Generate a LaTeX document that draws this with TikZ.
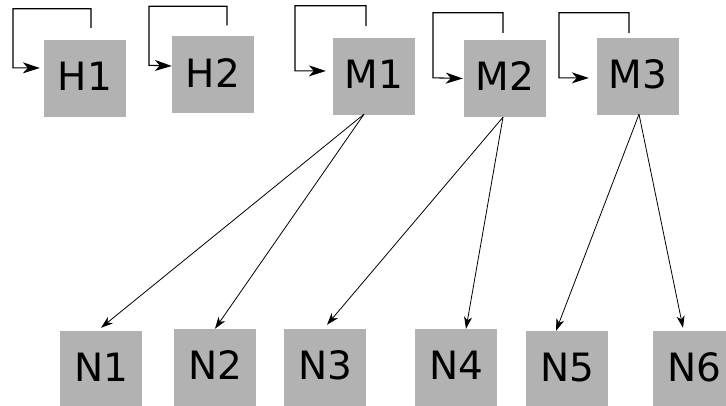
\documentclass[tikz,border=0pt]{standalone}
\usepackage{fontspec}
\setmainfont{DejaVu Sans}
\usetikzlibrary{arrows.meta}
\begin{document}
\begin{tikzpicture}[x=1pt,y=1pt,
  box/.style={fill=black!30, draw=none, minimum width=82pt, minimum height=77pt,
    inner sep=0pt, text depth=4pt, font=\fontsize{39}{40}\selectfont},
  selfloop/.style={line width=1.1pt, -{Stealth[length=17pt,width=11pt,inset=5pt]}},
  link/.style={line width=0.8pt, -{Stealth[length=12pt,width=8pt,inset=3.5pt]}}]
\useasboundingbox (0,0) rectangle (726,405);
\begin{scope}
\clip (0,0) rectangle (726,405);
% top row
\node[box] (H1) at (85,326.5) {H1};
\node[box] (H2) at (213,330) {H2};
\node[box] (M1) at (374,328.5) {M1};
\node[box] (M2) at (505,326.5) {M2};
\node[box] (M3) at (638,328.5) {M3};
% bottom row
\node[box] (N1) at (101,35.5) {N1};
\node[box] (N2) at (215,37.5) {N2};
\node[box] (N3) at (325,37.5) {N3};
\node[box] (N4) at (456,37.5) {N4};
\node[box] (N5) at (567,35.5) {N5};
\node[box] (N6) at (694,35.5) {N6};
% self loops
\draw[selfloop] ([xshift=6,yshift=12]H1.north) -- ++(0,19) -| ++(-78,-59) -- ([yshift=10.5,xshift=-4]H1.west);
\draw[selfloop] ([xshift=14,yshift=11]H2.north) -- ++(0,19) -| ++(-78,-59) -- ([yshift=9]H2.west);
\draw[selfloop] ([xshift=-8,yshift=12]M1.north) -- ++(0,20) -| ++(-71,-65) -- ([yshift=5.5,xshift=-7]M1.west);
\draw[selfloop] ([xshift=-2,yshift=7]M2.north) -- ++(0,20) -| ++(-70,-65) -- ([xshift=-1]M2.west);
\draw[selfloop] ([xshift=-9,yshift=5]M3.north) -- ++(0,20) -| ++(-70,-65) -- ([yshift=-1.5,xshift=-8]M3.west);
% links
\draw[link] ([xshift=-10,yshift=1]M1.south) -- ([yshift=3]N1.north);
\draw[link] ([xshift=-10,yshift=1]M1.south) -- (N2.north);
\draw[link] ([xshift=-2]M2.south) -- ([xshift=2,yshift=4]N3.north);
\draw[link] ([xshift=-2]M2.south) -- ([xshift=10]N4.north);
\draw[link] ([xshift=1,yshift=1]M3.south) -- ([xshift=-11]N5.north);
\draw[link] ([xshift=1,yshift=1]M3.south) -- ([xshift=-11,yshift=3]N6.north);
\end{scope}
\end{tikzpicture}
\end{document}
